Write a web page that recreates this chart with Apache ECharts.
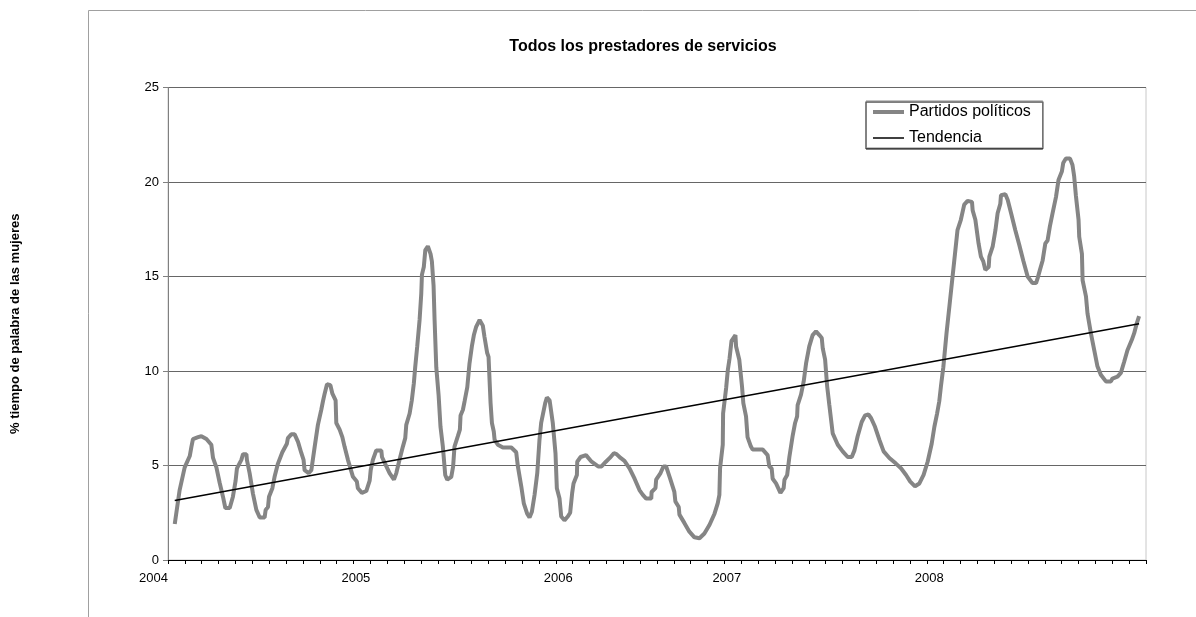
<!DOCTYPE html>
<html>
<head>
<meta charset="utf-8">
<script src="https://cdn.jsdelivr.net/npm/echarts@6/dist/echarts.min.js"></script>
<style>
    html, body { margin: 0; padding: 0; background: #fff; }
    #chart { width: 1196px; height: 617px; }
</style>
</head>
<body>
<div id="chart"></div>
<script>
    // posición en el eje X (en marcas del eje) y valor de la serie
    var periodo = [
        0.40, 0.69, 0.99, 1.29, 1.39, 1.48, 1.78, 1.98, 2.28, 2.57,
        2.67, 2.87, 3.06, 3.26, 3.40, 3.66, 3.85, 4.01, 4.09, 4.35,
        4.45, 4.65, 4.68, 4.84, 5.04, 5.24, 5.44, 5.73, 5.79, 5.93,
        5.99, 6.19, 6.32, 6.52, 6.78, 7.05, 7.11, 7.31, 7.51, 7.71,
        7.91, 8.04, 8.10, 8.34, 8.50, 8.70, 8.89, 9.09, 9.19, 9.29,
        9.43, 9.63, 9.75, 9.94, 9.98, 10.18, 10.34, 10.47, 10.67, 10.97,
        11.20, 11.26, 11.50, 11.76, 11.96, 12.02, 12.15, 12.35, 12.65, 12.69,
        12.95, 13.14, 13.40, 13.54, 13.73, 13.93, 14.07, 14.13, 14.33, 14.46,
        14.58, 14.66, 14.78, 14.92, 15.02, 15.06, 15.17, 15.26, 15.41, 15.57,
        15.65, 15.75, 15.81, 15.91, 16.05, 16.16, 16.30, 16.44, 16.56, 16.80,
        16.91, 16.99, 17.19, 17.31, 17.35, 17.49, 17.59, 17.75, 17.88, 18.02,
        18.14, 18.28, 18.48, 18.67, 18.77, 18.93, 19.01, 19.13, 19.21, 19.32,
        19.37, 19.56, 19.86, 20.36, 20.65, 20.75, 20.95, 21.10, 21.30, 21.44,
        21.58, 21.74, 21.90, 22.03, 22.13, 22.37, 22.47, 22.63, 22.82, 22.98,
        23.06, 23.22, 23.32, 23.51, 23.71, 23.85, 23.97, 24.05, 24.25, 24.27,
        24.47, 24.79, 25.12, 25.51, 25.71, 25.97, 26.20, 26.44, 26.60, 26.84,
        27.07, 27.37, 27.67, 27.96, 28.16, 28.36, 28.66, 28.68, 28.91, 28.95,
        29.21, 29.38, 29.54, 29.78, 30.03, 30.09, 30.29, 30.33, 30.63, 30.92,
        31.22, 31.52, 31.81, 32.11, 32.41, 32.60, 32.70, 32.74, 32.90, 32.92,
        33.10, 33.20, 33.30, 33.40, 33.42, 33.65, 33.69, 33.88, 34.04, 34.12,
        34.28, 34.37, 34.57, 34.67, 35.26, 35.56, 35.66, 35.80, 35.86, 36.06,
        36.32, 36.51, 36.56, 36.72, 36.85, 37.05, 37.19, 37.31, 37.34, 37.54,
        37.70, 37.84, 38.03, 38.23, 38.43, 38.63, 38.77, 38.83, 38.97, 39.09,
        39.22, 39.36, 39.42, 39.72, 40.01, 40.31, 40.55, 40.71, 40.90, 41.14,
        41.34, 41.54, 41.70, 41.93, 42.19, 42.44, 42.78, 43.17, 43.47, 43.77,
        44.02, 44.30, 44.56, 44.81, 45.05, 45.29, 45.45, 45.61, 45.74, 45.84,
        45.98, 46.17, 46.38, 46.63, 46.82, 47.02, 47.22, 47.42, 47.68, 47.72,
        47.88, 48.07, 48.21, 48.35, 48.47, 48.67, 48.71, 48.91, 49.07, 49.20,
        49.36, 49.40, 49.66, 49.80, 50.00, 50.25, 50.49, 50.72, 50.98, 51.27,
        51.48, 51.57, 51.71, 51.87, 52.03, 52.16, 52.30, 52.46, 52.66, 52.81,
        53.01, 53.09, 53.25, 53.49, 53.64, 53.74, 53.84, 54.00, 54.04, 54.20,
        54.24, 54.44, 54.53, 54.73, 54.93, 55.12, 55.32, 55.62, 55.92, 56.01,
        56.31, 56.51, 56.71, 56.90, 57.16, 57.30, 57.43, 57.59
    ];

    var partidos = [
        1.9, 3.7, 4.9, 5.5, 6.0, 6.4, 6.5, 6.55, 6.4, 6.1,
        5.4, 4.9, 4.1, 3.35, 2.75, 2.75, 3.35, 4.2, 4.85, 5.3,
        5.6, 5.6, 5.3, 4.6, 3.5, 2.65, 2.25, 2.25, 2.65, 2.8,
        3.35, 3.8, 4.4, 5.1, 5.7, 6.15, 6.45, 6.65, 6.65, 6.25,
        5.65, 5.3, 4.75, 4.6, 4.75, 6.0, 7.15, 7.95, 8.4, 8.8,
        9.3, 9.25, 8.8, 8.45, 7.25, 6.9, 6.5, 6.0, 5.3, 4.4,
        4.15, 3.8, 3.55, 3.65, 4.2, 4.75, 5.3, 5.8, 5.8, 5.45,
        4.95, 4.6, 4.25, 4.6, 5.3, 6.0, 6.45, 7.15, 7.75, 8.45,
        9.35, 10.2, 11.3, 12.7, 14.1, 15.1, 15.5, 16.4, 16.6, 16.2,
        15.8, 14.5, 12.7, 10.2, 8.7, 7.05, 6.0, 4.5, 4.25, 4.4,
        4.95, 6.0, 6.55, 6.9, 7.65, 7.95, 8.4, 9.15, 10.4, 11.3,
        11.9, 12.35, 12.7, 12.4, 11.8, 10.95, 10.75, 8.3, 7.25, 6.8,
        6.35, 6.1, 5.95, 5.95, 5.7, 4.95, 3.9, 3.0, 2.45, 2.25,
        2.55, 3.45, 4.6, 6.35, 7.25, 8.3, 8.6, 8.45, 7.25, 5.65,
        3.8, 3.25, 2.3, 2.1, 2.3, 2.5, 3.55, 4.05, 4.5, 5.2,
        5.45, 5.55, 5.2, 4.95, 4.95, 5.2, 5.4, 5.65, 5.6, 5.4,
        5.25, 4.85, 4.3, 3.7, 3.45, 3.25, 3.25, 3.6, 3.8, 4.25,
        4.6, 4.95, 4.95, 4.3, 3.6, 3.1, 2.8, 2.4, 1.95, 1.5,
        1.2, 1.15, 1.4, 1.85, 2.45, 3.0, 3.45, 4.85, 6.1, 7.75,
        9.1, 10.05, 10.65, 10.75, 11.6, 11.9, 11.3, 10.6, 9.2, 8.3,
        7.6, 6.5, 6.0, 5.85, 5.85, 5.55, 4.95, 4.85, 4.3, 4.05,
        3.55, 3.8, 4.25, 4.5, 5.45, 6.6, 7.25, 7.6, 8.2, 8.75,
        9.45, 10.4, 11.3, 11.9, 12.1, 11.9, 11.75, 11.2, 10.6, 9.2,
        8.2, 7.15, 6.7, 6.1, 5.75, 5.45, 5.45, 5.8, 6.55, 7.3,
        7.65, 7.7, 7.5, 7.05, 6.35, 5.75, 5.4, 5.1, 4.85, 4.5,
        4.15, 3.9, 4.05, 4.5, 5.2, 6.15, 7.05, 7.75, 8.4, 9.2,
        10.2, 12.0, 13.75, 15.85, 17.45, 18.0, 18.8, 19.0, 18.95, 18.5,
        18.0, 16.75, 16.05, 15.8, 15.35, 15.5, 16.05, 16.6, 17.45, 18.35,
        18.85, 19.3, 19.35, 19.05, 18.35, 17.45, 16.65, 15.85, 15.0, 14.65,
        14.65, 14.9, 15.35, 15.85, 16.75, 16.9, 17.65, 18.35, 19.2, 20.1,
        20.55, 21.0, 21.25, 21.25, 20.9, 20.3, 19.3, 18.0, 17.1, 16.2,
        14.8, 13.95, 13.05, 12.0, 11.1, 10.25, 9.8, 9.45, 9.45, 9.6,
        9.7, 9.9, 10.5, 11.1, 11.65, 12.0, 12.45, 12.9
    ];

    // línea de tendencia (extremos)
    var tendenciaPeriodo = [0.40, 57.59];
    var tendenciaValor = [3.15, 12.5];

    // etiquetas del eje X
    var anioPosicion = [0, 12, 24, 34, 46];
    var anioEtiqueta = ['2004', '2005', '2006', '2007', '2008'];

    var titulo = 'Todos los prestadores de servicios';
    var nombreEjeY = '% tiempo de palabra de las mujeres';
    var nombreSerie = 'Partidos políticos';
    var nombreTendencia = 'Tendencia';

    var grisSerie = '#858585';

    function pares(xs, ys) {
        var out = [];
        for (var i = 0; i < xs.length; i++) {
            out.push([xs[i], ys[i]]);
        }
        return out;
    }

    var chart = echarts.init(document.getElementById('chart'), null, {renderer: 'canvas'});

    var option = {
        animation: false,
        backgroundColor: '#fff',
        textStyle: {fontFamily: 'Liberation Sans, Arial, sans-serif'},
        title: {
            text: titulo,
            left: 643,
            top: 39,
            textAlign: 'center',
            padding: 0,
            textStyle: {fontSize: 16, fontWeight: 'bold', color: '#000'}
        },
        legend: {
            orient: 'vertical',
            left: 866,
            top: 101,
            padding: [3, 12, 2, 5],
            itemWidth: 31,
            itemHeight: 16,
            itemGap: 10,
            borderColor: '#888',
            borderWidth: 1,
            shadowColor: '#000',
            shadowOffsetX: 0,
            shadowOffsetY: 1,
            shadowBlur: 0,
            backgroundColor: '#fff',
            // solo la línea, sin el símbolo
            itemStyle: {opacity: 0},
            data: [
                {name: nombreSerie, lineStyle: {width: 4, color: grisSerie}},
                {name: nombreTendencia, lineStyle: {width: 1.5, color: '#000'}}
            ],
            textStyle: {fontSize: 16, color: '#000'}
        },
        grid: {
            left: 168,
            right: 50,
            top: 87.5,
            bottom: 57,
            outerBoundsMode: 'none',
            show: true,
            borderColor: '#c8c8c8',
            borderWidth: 1
        },
        xAxis: {
            type: 'value',
            min: 0,
            max: 58,
            interval: 1,
            splitLine: {show: false},
            axisLine: {lineStyle: {color: '#000', width: 1}},
            axisTick: {show: true, length: 4, lineStyle: {color: '#000'}},
            axisLabel: {
                margin: 12,
                fontSize: 13,
                color: '#000',
                align: 'right',
                formatter: function (v) {
                    var k = anioPosicion.indexOf(v);
                    return k >= 0 ? anioEtiqueta[k] : '';
                }
            }
        },
        yAxis: {
            type: 'value',
            min: 0,
            max: 25,
            interval: 5,
            name: nombreEjeY,
            nameLocation: 'middle',
            nameGap: 146,
            nameRotate: 90,
            nameTextStyle: {fontSize: 13, fontWeight: 'bold', color: '#000'},
            axisLine: {show: true, lineStyle: {color: '#808080', width: 1}},
            axisTick: {show: true, length: 5, lineStyle: {color: '#808080'}},
            axisLabel: {margin: 9, fontSize: 13, color: '#000'},
            splitLine: {show: true, lineStyle: {color: '#666', width: 1}}
        },
        series: [
            {
                name: nombreSerie,
                type: 'line',
                symbol: 'none',
                data: pares(periodo, partidos),
                lineStyle: {color: grisSerie, width: 4},
                itemStyle: {color: grisSerie}
            },
            {
                name: nombreTendencia,
                type: 'line',
                symbol: 'none',
                data: pares(tendenciaPeriodo, tendenciaValor),
                lineStyle: {color: '#000', width: 1.5},
                itemStyle: {color: '#000'}
            }
        ],
        graphic: [
            {
                type: 'polyline',
                silent: true,
                shape: {points: [[88.5, 617], [88.5, 10.5], [1196, 10.5]]},
                style: {stroke: '#a0a0a0', lineWidth: 1, fill: null}
            }
        ]
    };

    chart.setOption(option);
</script>
</body>
</html>
